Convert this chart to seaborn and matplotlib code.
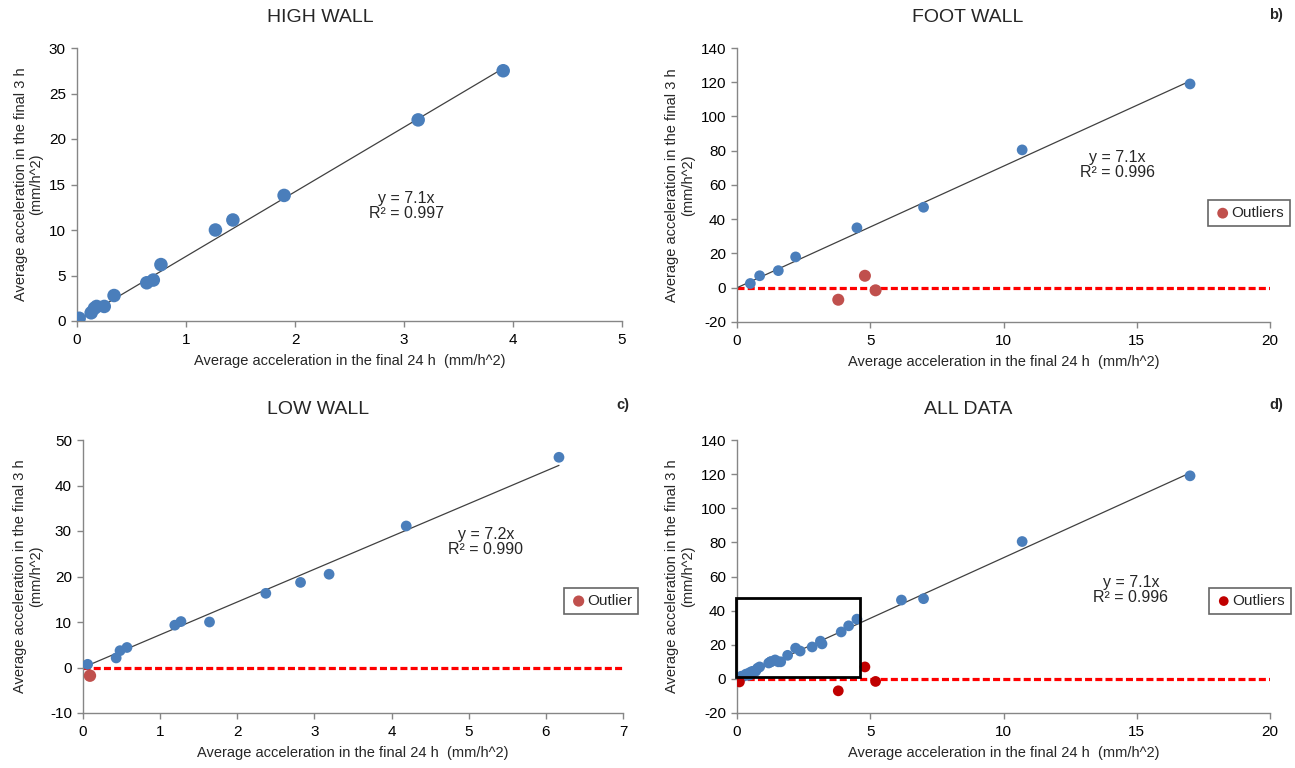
import numpy as np
import pandas as pd
import seaborn as sns
import matplotlib.pyplot as plt
from matplotlib.patches import Rectangle

sns.set_style("white")
plt.rcParams['font.family'] = ['Liberation Sans', 'DejaVu Sans']
plt.rcParams['axes.unicode_minus'] = False

# --- data ---
high_x = [0.02, 0.13, 0.16, 0.18, 0.25, 0.34, 0.64, 0.70, 0.77, 1.27, 1.43, 1.90, 3.13, 3.91]
high_y = [0.3, 0.9, 1.4, 1.6, 1.6, 2.8, 4.2, 4.5, 6.2, 10.0, 11.1, 13.8, 22.1, 27.5]

foot_x = [0.5, 0.85, 1.55, 2.2, 4.5, 7.0, 10.7, 17.0]
foot_y = [2.5, 7.0, 10.0, 18.0, 35.0, 47.0, 80.5, 119.0]
foot_out_x = [3.8, 4.8, 5.2]
foot_out_y = [-7.0, 7.0, -1.5]

low_x = [0.06, 0.43, 0.48, 0.57, 1.19, 1.27, 1.64, 2.37, 2.82, 3.19, 4.19, 6.17]
low_y = [0.7, 2.1, 3.7, 4.4, 9.3, 10.1, 10.0, 16.3, 18.7, 20.5, 31.1, 46.2]
low_out_x = [0.09]
low_out_y = [-1.8]

all_x = high_x + foot_x + low_x
all_y = high_y + foot_y + low_y
all_out_x = low_out_x + foot_out_x
all_out_y = low_out_y + foot_out_y

slopes = {"a": 7.1, "b": 7.1, "c": 7.2, "d": 7.1}
r2 = {"a": "0.997", "b": "0.996", "c": "0.990", "d": "0.996"}

blue = "#4A7EBB"
red = "#C0504D"
dark_red = "#C00000"
gray = "#868686"

fig = plt.figure(figsize=(12.95, 7.68), dpi=100)
W, H = 1295, 768


def make_ax(l, r, t, b):
    return fig.add_axes([l / W, 1 - b / H, (r - l) / W, (b - t) / H])


ax_a = make_ax(77, 622, 48, 321)
ax_b = make_ax(737, 1270, 48, 322)
ax_c = make_ax(83, 623, 440, 713)
ax_d = make_ax(737, 1270, 440, 713)


def trend(ax, xs, k):
    x0 = min(xs) if k == "a" else 0
    x1 = max(xs)
    tl = pd.DataFrame({"x": [x0, x1], "y": [x0 * slopes[k], x1 * slopes[k]]})
    sns.lineplot(data=tl, x="x", y="y", ax=ax, color="#404040", linewidth=0.9, zorder=2)


def style(ax, xlim, ylim, xt, yt):
    ax.set_xlim(*xlim)
    ax.set_ylim(*ylim)
    ax.set_xticks(xt)
    ax.set_yticks(yt)
    for s in ["top", "right"]:
        ax.spines[s].set_visible(False)
    for s in ["left", "bottom"]:
        ax.spines[s].set_color(gray)
        ax.spines[s].set_linewidth(1.0)
    ax.tick_params(direction="out", length=4, width=1, color=gray, labelsize=11,
                   labelcolor="#000000", left=True, bottom=True)
    ax.tick_params(axis="x", pad=5)
    ax.tick_params(axis="y", pad=4)
    ax.set_xlabel("Average acceleration in the final 24 h  (mm/h^2)", fontsize=10.5)
    ax.set_ylabel("Average acceleration in the final 3 h\n(mm/h^2)", fontsize=10.5,
                  linespacing=1.15)


def eq_text(ax, k, x, y):
    ax.text(x, y, "y = %.1fx\nR² = %s" % (slopes[k], r2[k]), transform=ax.transAxes,
            ha="center", va="center", fontsize=11.5, linespacing=1.05)


dash = (0, (2.2, 1.0))

# --- a) high wall ---
df = pd.DataFrame({"x": high_x, "y": high_y})
trend(ax_a, high_x, "a")
sns.scatterplot(data=df, x="x", y="y", ax=ax_a, color=blue, s=95, edgecolor="none", zorder=3)
style(ax_a, (0, 5), (0, 30), range(0, 6), range(0, 31, 5))
eq_text(ax_a, "a", 0.605, 0.421)

# --- b) foot wall ---
df = pd.DataFrame({"x": foot_x, "y": foot_y})
dfo = pd.DataFrame({"x": foot_out_x, "y": foot_out_y})
ax_b.axhline(0, color="#FF0000", linewidth=2.3, linestyle=dash, zorder=1)
trend(ax_b, foot_x, "b")
sns.scatterplot(data=df, x="x", y="y", ax=ax_b, color=blue, s=60, edgecolor="none", zorder=3)
sns.scatterplot(data=dfo, x="x", y="y", ax=ax_b, color=red, s=75, edgecolor="none",
                zorder=3, label="Outliers")
style(ax_b, (0, 20), (-20, 140), range(0, 21, 5), range(-20, 141, 20))
eq_text(ax_b, "b", 0.713, 0.573)

# --- c) low wall ---
df = pd.DataFrame({"x": low_x, "y": low_y})
dfo = pd.DataFrame({"x": low_out_x, "y": low_out_y})
ax_c.axhline(0, color="#FF0000", linewidth=2.3, linestyle=dash, zorder=1)
trend(ax_c, low_x, "c")
sns.scatterplot(data=df, x="x", y="y", ax=ax_c, color=blue, s=60, edgecolor="none", zorder=3)
sns.scatterplot(data=dfo, x="x", y="y", ax=ax_c, color=red, s=80, edgecolor="none",
                zorder=3, label="Outlier")
style(ax_c, (0, 7), (-10, 50), range(0, 8), range(-10, 51, 10))
eq_text(ax_c, "c", 0.746, 0.626)

# --- d) all data ---
df = pd.DataFrame({"x": all_x, "y": all_y})
dfo = pd.DataFrame({"x": all_out_x, "y": all_out_y})
ax_d.axhline(0, color="#FF0000", linewidth=2.3, linestyle=dash, zorder=1)
trend(ax_d, all_x, "d")
sns.scatterplot(data=df, x="x", y="y", ax=ax_d, color=blue, s=60, edgecolor="none", zorder=3)
sns.scatterplot(data=dfo, x="x", y="y", ax=ax_d, color=dark_red, s=60, edgecolor="none",
                zorder=3, label="Outliers")
ax_d.add_patch(Rectangle((-0.05, 1.0), 4.67, 46.5, fill=False, edgecolor="black",
                         linewidth=2, zorder=4, clip_on=False))
style(ax_d, (0, 20), (-20, 140), range(0, 21, 5), range(-20, 141, 20))
eq_text(ax_d, "d", 0.739, 0.45)

# legends
for ax, pos in [(ax_b, (0.884, 0.445)), (ax_c, (0.891, 0.458)), (ax_d, (0.886, 0.458))]:
    leg = ax.legend(loc="upper left", bbox_to_anchor=pos, borderaxespad=0, fontsize=11,
                    frameon=True, fancybox=False, handletextpad=0.0, handlelength=1.1,
                    borderpad=0.4, markerscale=0.9)
    leg.get_frame().set_edgecolor("#404040")
    leg.get_frame().set_linewidth(1.2)

# axis label positions
for ax in [ax_a, ax_b, ax_c, ax_d]:
    ax.xaxis.set_label_coords(0.5, -0.122)
ax_a.yaxis.set_label_coords(-0.062, 0.5)
ax_b.yaxis.set_label_coords(-0.079, 0.5)
ax_c.yaxis.set_label_coords(-0.074, 0.5)
ax_d.yaxis.set_label_coords(-0.079, 0.5)

# titles and panel letters
for x, y, t in [(320, 18, "HIGH WALL"), (968, 18, "FOOT WALL"),
                (318, 410, "LOW WALL"), (968, 410, "ALL DATA")]:
    fig.text(x / W, 1 - y / H, t, ha="center", va="center", fontsize=14)
for x, y, t in [(1276, 15, "b)"), (623, 405, "c)"), (1276, 405, "d)")]:
    fig.text(x / W, 1 - y / H, t, ha="center", va="center", fontsize=10.5, fontweight="bold")

fig.savefig("out.png", dpi=100)
